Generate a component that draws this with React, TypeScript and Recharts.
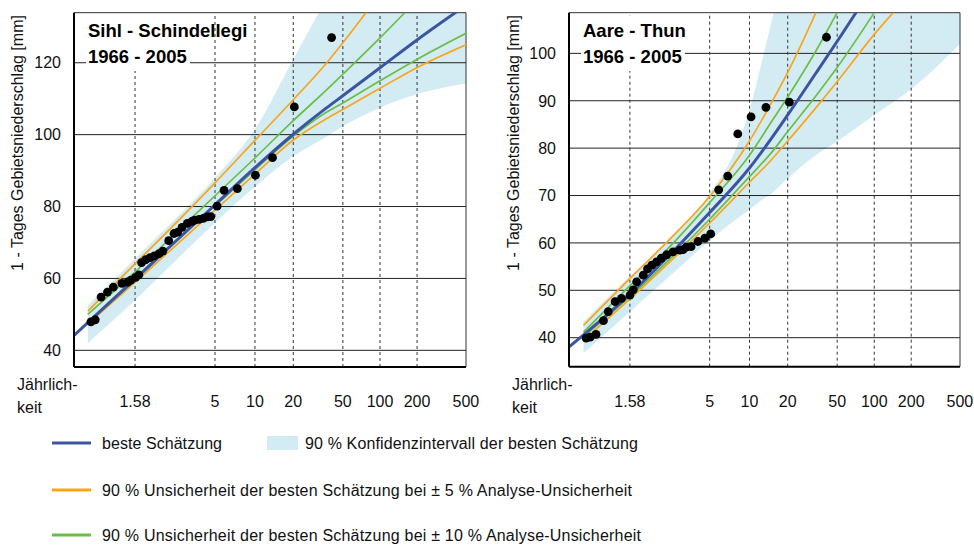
import React from "react";
import {
  ComposedChart,
  Area,
  Line,
  Scatter,
  XAxis,
  YAxis,
  ReferenceLine,
} from "recharts";

const FONT = "'Liberation Sans', Arial, Helvetica, sans-serif";

const BLUE = "#3B55A3";
const ORANGE = "#F9A51A";
const GREEN = "#6CBD45";
const BAND = "#D3ECF4";

// Return periods on the Gumbel (reduced variate) axis
const returnPeriods = [1.58, 5, 10, 20, 50, 100, 200, 500];
const returnPeriodLabels = ["1.58", "5", "10", "20", "50", "100", "200", "500"];
const gumbel = (T: number) => -Math.log(-Math.log(1 - 1 / T));
const xTicks = returnPeriods.map(gumbel);
const X_DOMAIN: [number, number] = [-1.149, 6.215];

// ---- Sihl - Schindellegi (reduced variate u -> precipitation mm) ----
const sihlU = [-1.144, -0.89, 0, 0.75, 1.5, 2.25, 2.97, 3.6, 3.9, 4.6, 5.3, 6.214];
const sihlBest = [44.2, 47.7, 59.9, 70.2, 80.5, 90.8, 100.1, 107.5, 110.8, 118.6, 126.4, 136.0];
const sihlUp5 = [null, 50.9, 64.1, 75.2, 86.6, 98.4, 109.7, 120.0, 125.5, 139.0, 152.0, 170.0];
const sihlLo5 = [null, 47.3, 59.0, 69.0, 79.0, 89.0, 98.5, 104.5, 107.0, 112.9, 118.7, 125.0];
const sihlUp10 = [null, 50.0, 61.8, 72.5, 83.0, 93.5, 103.9, 112.5, 116.8, 126.9, 137.5, 151.0];
const sihlLo10 = [null, 47.6, 59.5, 70.0, 80.2, 90.2, 99.6, 106.3, 108.8, 115.0, 121.0, 128.2];
const sihlBandU = [-0.89, 0, 0.75, 1.5, 2.25, 2.97, 3.6, 3.9, 4.6, 5.3, 6.214];
const sihlBandHi = [52.5, 65.5, 76.5, 88.0, 101.5, 121.0, 138.0, 146.0, 165.0, 185.0, 210.0];
const sihlBandLo = [42.0, 54.0, 64.8, 75.5, 85.5, 94.0, 99.5, 102.3, 107.5, 111.3, 114.2];
const sihlObsU = [-0.83, -0.75, -0.64, -0.52, -0.41, -0.25, -0.14, -0.08, 0.01, 0.07, 0.12, 0.2, 0.28, 0.36, 0.45, 0.52, 0.63, 0.73, 0.8, 0.88, 0.98, 1.07, 1.12, 1.2, 1.28, 1.36, 1.42, 1.54, 1.67, 1.92, 2.26, 2.58, 2.99, 3.69];
const sihlObsV = [47.9, 48.5, 54.8, 56.2, 57.6, 58.6, 59.0, 59.5, 60.3, 61.0, 64.4, 65.2, 65.8, 66.3, 66.9, 67.6, 70.5, 72.5, 72.9, 74.2, 75.3, 75.9, 76.2, 76.4, 76.7, 77.1, 77.2, 80.1, 84.5, 85.0, 88.7, 93.6, 107.7, 127.0];
const sihlYTicks = [40, 60, 80, 100, 120];

// ---- Aare - Thun ----
const aareU = [-1.144, -0.876, 0, 0.75, 1.5, 2.25, 2.66, 2.97, 3.5, 3.9, 4.6, 5.3, 6.214];
const aareBest = [38.1, 40.6, 49.2, 57.5, 66.4, 75.8, 82.0, 87.0, 95.8, 102.5, 114.5, 126.0, 140.0];
const aareUp5 = [null, 42.6, 52.5, 60.8, 69.8, 81.5, 89.5, 96.0, 108.6, 119.0, 138.0, 158.0, 185.0];
const aareLo5 = [null, 39.5, 48.2, 56.0, 64.2, 72.8, 77.5, 81.5, 88.5, 94.0, 104.0, 113.0, 126.0];
const aareUp10 = [null, 41.2, 51.0, 59.2, 68.5, 78.5, 85.5, 90.8, 100.5, 108.6, 124.0, 141.0, 165.0];
const aareLo10 = [null, 40.2, 48.7, 56.6, 65.0, 74.0, 79.0, 83.5, 91.0, 97.0, 108.6, 121.0, 135.0];
const aareBandU = [-0.876, 0, 0.75, 1.5, 2.0, 2.25, 2.5, 2.66, 2.97, 3.5, 3.9, 4.6, 5.3, 6.214];
const aareBandHi = [43.4, 53.0, 60.8, 70.5, 80.0, 88.0, 99.0, 106.5, 122.0, 150.0, 170.0, 205.0, 240.0, 290.0];
const aareBandLo = [36.7, 45.5, 53.0, 60.5, 65.0, 67.0, 69.2, 70.4, 73.6, 78.5, 81.4, 87.0, 92.5, 102.0];
const aareObsU = [-0.825, -0.75, -0.64, -0.5, -0.41, -0.28, -0.16, 0, 0.06, 0.125, 0.25, 0.33, 0.41, 0.5, 0.59, 0.69, 0.81, 0.94, 1.0, 1.06, 1.15, 1.28, 1.41, 1.52, 1.67, 1.84, 2.03, 2.28, 2.56, 3.0, 3.7];
const aareObsV = [39.9, 40.1, 40.7, 43.6, 45.5, 47.6, 48.3, 49.0, 50.1, 51.8, 53.2, 54.5, 55.3, 56.0, 56.8, 57.5, 58.1, 58.5, 58.6, 59.1, 59.2, 60.3, 61.0, 61.9, 71.2, 74.1, 83.0, 86.6, 88.6, 89.7, 103.4];
const aareYTicks = [40, 50, 60, 70, 80, 90, 100];

type Val = number | null;

const toSeries = (u: number[], v: Val[]) =>
  u.map((x, i) => ({ u: x, v: v[i] })).filter((d) => d.v !== null);

const toBand = (u: number[], lo: number[], hi: number[]) =>
  u.map((x, i) => ({ u: x, range: [lo[i], hi[i]] }));

const Dot = (p: any) => <circle cx={p.cx} cy={p.cy} r={4.4} fill="#000" />;

type PanelProps = {
  width: number;
  height: number;
  margin: { top: number; right: number; bottom: number; left: number };
  yDomain: [number, number];
  yTicks: number[];
  u: number[];
  best: Val[];
  up5: Val[];
  lo5: Val[];
  up10: Val[];
  lo10: Val[];
  bandU: number[];
  bandLo: number[];
  bandHi: number[];
  obsU: number[];
  obsV: number[];
};

const Y_AXIS_W = 60;
const X_AXIS_H = 30;

function GumbelPanel(props: PanelProps) {
  const { width, height, margin, yDomain, yTicks, u } = props;
  const plotLeft = margin.left + Y_AXIS_W;
  const plotBottom = height - margin.bottom - X_AXIS_H;

  const xTick = (p: any) => (
    <text
      x={p.x}
      y={plotBottom + 40}
      textAnchor="middle"
      fontFamily={FONT}
      fontSize={16}
      fill="#111"
    >
      {returnPeriodLabels[p.index]}
    </text>
  );
  const yTick = (p: any) => (
    <text
      x={plotLeft - 13}
      y={p.y}
      dy="0.36em"
      textAnchor="end"
      fontFamily={FONT}
      fontSize={16}
      fill="#111"
    >
      {p.payload.value}
    </text>
  );

  const lineProps = {
    dataKey: "v",
    type: "monotone" as const,
    dot: false,
    activeDot: false,
    isAnimationActive: false,
  };

  return (
    <ComposedChart width={width} height={height} margin={margin}>
      <XAxis
        type="number"
        dataKey="u"
        domain={X_DOMAIN}
        ticks={xTicks}
        interval={0}
        allowDataOverflow
        height={X_AXIS_H}
        axisLine={{ stroke: "#000", strokeWidth: 2 }}
        tickLine={false}
        tick={xTick}
      />
      <YAxis
        type="number"
        domain={yDomain}
        ticks={yTicks}
        interval={0}
        allowDataOverflow
        width={Y_AXIS_W}
        axisLine={{ stroke: "#000", strokeWidth: 2 }}
        tickLine={false}
        tick={yTick}
      />
      <Area
        data={toBand(props.bandU, props.bandLo, props.bandHi)}
        dataKey="range"
        type="monotone"
        stroke="none"
        fill={BAND}
        fillOpacity={1}
        isAnimationActive={false}
      />
      {yTicks.map((t) => (
        <ReferenceLine key={"h" + t} y={t} stroke="#222" strokeWidth={1} />
      ))}
      {xTicks.slice(0, -1).map((t) => (
        <ReferenceLine
          key={"v" + t}
          x={t}
          stroke="#333"
          strokeWidth={1}
          strokeDasharray="3 3"
        />
      ))}
      <ReferenceLine y={yDomain[1]} stroke="#333" strokeWidth={1} />
      <ReferenceLine x={X_DOMAIN[1]} stroke="#333" strokeWidth={1} />
      <Scatter
        data={props.obsU.map((x, i) => ({ u: x, v: props.obsV[i] }))}
        dataKey="v"
        shape={Dot}
        isAnimationActive={false}
      />
      <Line {...lineProps} data={toSeries(u, props.up5)} stroke={ORANGE} strokeWidth={1.7} />
      <Line {...lineProps} data={toSeries(u, props.lo5)} stroke={ORANGE} strokeWidth={1.7} />
      <Line {...lineProps} data={toSeries(u, props.up10)} stroke={GREEN} strokeWidth={1.7} />
      <Line {...lineProps} data={toSeries(u, props.lo10)} stroke={GREEN} strokeWidth={1.7} />
      <Line {...lineProps} data={toSeries(u, props.best)} stroke={BLUE} strokeWidth={3} />
    </ComposedChart>
  );
}

const yLabel = "1 - Tages Gebietsniederschlag [mm]";

const legendRows = [
  { y: 443, color: BLUE, text: "beste Schätzung", len: 120 },
  { y: 490, color: ORANGE, text: "90 % Unsicherheit der besten Schätzung bei ± 5 % Analyse-Unsicherheit", len: 530 },
  { y: 535, color: GREEN, text: "90 % Unsicherheit der besten Schätzung bei ± 10 % Analyse-Unsicherheit", len: 539 },
];

function Overlay() {
  const txt = { fontFamily: FONT, fontSize: 16, fill: "#111" };
  const title = { fontFamily: FONT, fontSize: 18.5, fontWeight: 700, fill: "#000" };
  return (
    <svg
      width={974}
      height={545}
      style={{ position: "absolute", left: 0, top: 0, pointerEvents: "none" }}
    >
      {/* axis titles */}
      <text {...txt} transform="translate(23,143) rotate(-90)" textAnchor="middle">
        {yLabel}
      </text>
      <text {...txt} transform="translate(519,143) rotate(-90)" textAnchor="middle">
        {yLabel}
      </text>
      <text {...txt} x={17} y={389.5}>Jährlich-</text>
      <text {...txt} x={17} y={412.5}>keit</text>
      <text {...txt} x={512} y={389.5}>Jährlich-</text>
      <text {...txt} x={512} y={412.5}>keit</text>

      {/* station titles */}
      <rect x={86} y={16} width={104} height={55} fill="#fff" />
      <text {...title} x={88} y={36.7}>Sihl - Schindellegi</text>
      <text {...title} x={88} y={63.3}>1966 - 2005</text>
      <rect x={581} y={16} width={104} height={55} fill="#fff" />
      <text {...title} x={583} y={36.7}>Aare - Thun</text>
      <text {...title} x={583} y={63.3}>1966 - 2005</text>

      {/* legend */}
      <rect x={267} y={436} width={31} height={14} fill={BAND} />
      <text {...txt} x={305} y={legendRows[0].y + 5.7} textLength={333} lengthAdjust="spacing">
        90 % Konfidenzintervall der besten Schätzung
      </text>
      {legendRows.map((r) => (
        <g key={r.text}>
          <line x1={52} x2={91} y1={r.y} y2={r.y} stroke={r.color} strokeWidth={3} />
          <text {...txt} x={102} y={r.y + 5.7} textLength={r.len} lengthAdjust="spacing">
            {r.text}
          </text>
        </g>
      ))}
    </svg>
  );
}

export default function App() {
  return (
    <div
      style={{
        position: "absolute",
        left: 0,
        top: 0,
        width: 974,
        height: 545,
        background: "#fff",
        overflow: "hidden",
      }}
    >
      <div style={{ position: "absolute", left: 0, top: 0 }}>
        <GumbelPanel
          width={490}
          height={420}
          margin={{ top: 12.7, right: 24, bottom: 23, left: 14 }}
          yDomain={[35.36, 133.92]}
          yTicks={sihlYTicks}
          u={sihlU}
          best={sihlBest}
          up5={sihlUp5}
          lo5={sihlLo5}
          up10={sihlUp10}
          lo10={sihlLo10}
          bandU={sihlBandU}
          bandLo={sihlBandLo}
          bandHi={sihlBandHi}
          obsU={sihlObsU}
          obsV={sihlObsV}
        />
      </div>
      <div style={{ position: "absolute", left: 490, top: 0 }}>
        <GumbelPanel
          width={484}
          height={420}
          margin={{ top: 12.7, right: 14, bottom: 23.3, left: 19 }}
          yDomain={[33.88, 108.58]}
          yTicks={aareYTicks}
          u={aareU}
          best={aareBest}
          up5={aareUp5}
          lo5={aareLo5}
          up10={aareUp10}
          lo10={aareLo10}
          bandU={aareBandU}
          bandLo={aareBandLo}
          bandHi={aareBandHi}
          obsU={aareObsU}
          obsV={aareObsV}
        />
      </div>
      <Overlay />
    </div>
  );
}
